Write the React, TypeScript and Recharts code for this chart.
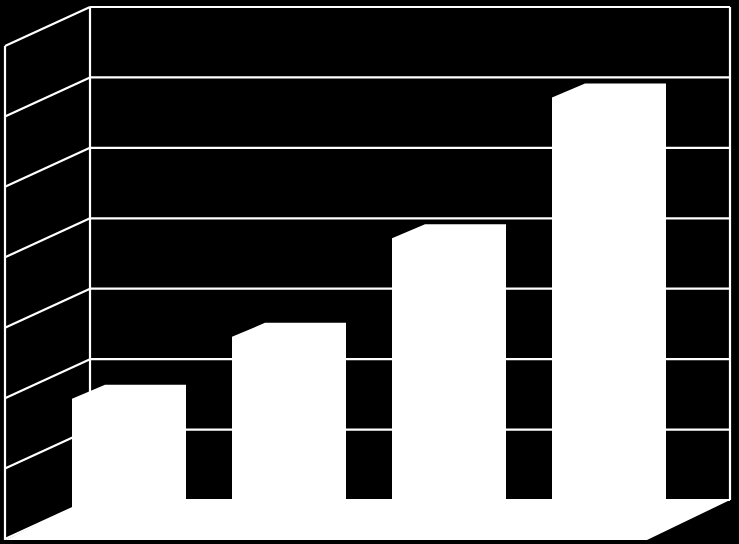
import React from 'react';
import { BarChart, Bar, XAxis, YAxis, CartesianGrid, ReferenceArea } from 'recharts';

const categories = ['A', 'B', 'C', 'D'];
const values = [1.82, 2.7, 4.1, 6.1];
const yTicks = [0, 1, 2, 3, 4, 5, 6, 7];

const data = categories.map((c, i) => ({ name: c, value: values[i] }));

// oblique projection offsets
const BACK_DX = 58;
const BACK_DY = -27;
const WALL_DX = -85;
const WALL_DY = 39;
const BAR_DX = 33;
const BAR_DY = -14;
const LINE = '#ffffff';
const SW = 2.2;

const GridLine = (props: any) => {
  const { x1, x2, y1 } = props;
  const xb0 = x1 + BACK_DX;
  const xb1 = x2 + BACK_DX;
  const yb = y1 + BACK_DY;
  return (
    <g>
      <line x1={xb0} x2={xb1} y1={yb} y2={yb} stroke={LINE} strokeWidth={SW} />
      <line x1={xb0 + WALL_DX} y1={yb + WALL_DY} x2={xb0} y2={yb} stroke={LINE} strokeWidth={SW} />
    </g>
  );
};

const Walls = (props: any) => {
  const { x, y, width, height } = props;
  const xb0 = x + BACK_DX;
  const xb1 = x + width + BACK_DX;
  const yb0 = y + BACK_DY;
  const yb1 = y + height + BACK_DY;
  const floor = [
    [xb0, yb1],
    [xb1, yb1],
    [xb1 + WALL_DX + 2, yb1 + WALL_DY + 1],
    [xb0 + WALL_DX, yb1 + WALL_DY + 1],
  ]
    .map((p) => p.join(','))
    .join(' ');
  return (
    <g>
      <polygon points={floor} fill="#ffffff" />
      <line x1={xb0} x2={xb0} y1={yb0} y2={yb1} stroke={LINE} strokeWidth={SW} />
      <line x1={xb1} x2={xb1} y1={yb0} y2={yb1} stroke={LINE} strokeWidth={SW} />
      <line x1={xb0 + WALL_DX} x2={xb0 + WALL_DX} y1={yb0 + WALL_DY} y2={yb1 + WALL_DY + 1} stroke={LINE} strokeWidth={SW} />
    </g>
  );
};

const Bar3D = (props: any) => {
  const { x, y, width, height } = props;
  const pts = [
    [x, y],
    [x + BAR_DX, y + BAR_DY],
    [x + width + BAR_DX, y + BAR_DY],
    [x + width + BAR_DX, y + height + BAR_DY],
    [x + width, y + height],
    [x, y + height],
  ]
    .map((p) => p.join(','))
    .join(' ');
  return <polygon points={pts} fill="#ffffff" />;
};

export default function App() {
  return (
    <div style={{ position: 'fixed', left: 0, top: 0, width: 739, height: 544, background: '#000000' }}>
      <BarChart
        width={739}
        height={544}
        data={data}
        margin={{ top: 34, right: 67, bottom: 17, left: 32 }}
        barSize={81}
      >
        <XAxis dataKey="name" hide />
        <YAxis hide domain={[0, 7]} ticks={yTicks} />
        <CartesianGrid vertical={false} horizontal={GridLine as any} stroke={LINE} />
        <ReferenceArea y1={0} y2={7} shape={Walls as any} fill="none" stroke="none" ifOverflow="visible" />
        <Bar dataKey="value" shape={Bar3D as any} isAnimationActive={false} />
      </BarChart>
    </div>
  );
}
